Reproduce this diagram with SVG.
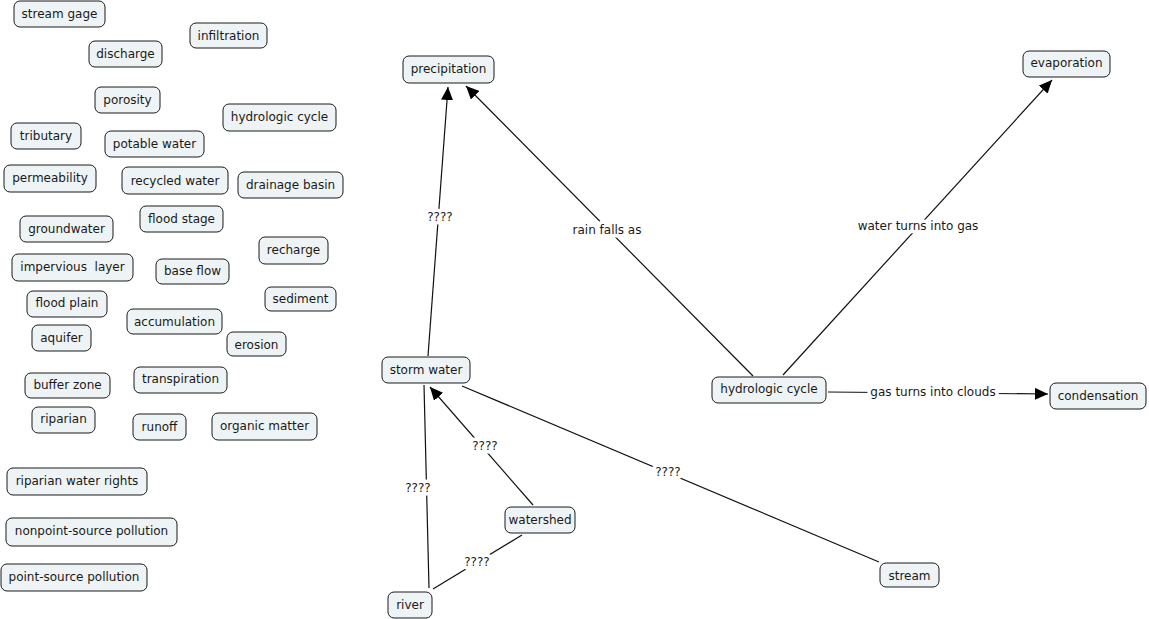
<svg xmlns="http://www.w3.org/2000/svg" width="1149" height="619" viewBox="0 0 1149 619">
<style>
.n rect{fill:#eef3f5;stroke:#1a1a1a;stroke-width:1}
.n text{font-family:"DejaVu Sans",Verdana,sans-serif;font-size:12px;fill:#1a1a1a;text-anchor:middle}
.c line{stroke:#111;stroke-width:1.2}
.c text{font-family:"DejaVu Sans",Verdana,sans-serif;font-size:12px;fill:#1a1a1a;text-anchor:middle;stroke:#fff;stroke-width:7;paint-order:stroke;stroke-linejoin:round}
</style>
<defs>
<marker id="a" markerUnits="userSpaceOnUse" markerWidth="14" markerHeight="12" viewBox="0 0 14 12" refX="13" refY="6" orient="auto">
<path d="M0,0 L13,6 L0,12 Z" fill="#000"/>
</marker>
</defs>
<rect width="1149" height="619" fill="#fff"/>
<g class="c" id="connectors">
<line x1="428" y1="356" x2="448" y2="87" marker-end="url(#a)"/>
<line x1="753" y1="376" x2="466" y2="86" marker-end="url(#a)"/>
<line x1="783" y1="375" x2="1052" y2="80" marker-end="url(#a)"/>
<line x1="828" y1="392" x2="1048" y2="394" marker-end="url(#a)"/>
<line x1="533" y1="505" x2="430" y2="387" marker-end="url(#a)"/>
<line x1="429" y1="588" x2="424" y2="385"/>
<line x1="462" y1="386" x2="879" y2="562"/>
<line x1="433" y1="589" x2="522" y2="535"/>
<text x="440" y="221">????</text>
<text x="607" y="234">rain falls as</text>
<text x="918" y="230">water turns into gas</text>
<text x="933" y="396">gas turns into clouds</text>
<text x="485" y="450">????</text>
<text x="418" y="492">????</text>
<text x="668" y="476">????</text>
<text x="477" y="566">????</text>
</g>
<g class="n" id="n-stream-gage"><rect x="14" y="1" width="91" height="26" rx="6"/><text x="59.5" y="18">stream gage</text></g>
<g class="n" id="n-infiltration"><rect x="190" y="23" width="77" height="25" rx="6"/><text x="228.5" y="40">infiltration</text></g>
<g class="n" id="n-discharge"><rect x="89" y="41" width="73" height="26" rx="6"/><text x="125.5" y="58">discharge</text></g>
<g class="n" id="n-porosity"><rect x="95" y="87" width="65" height="26" rx="6"/><text x="127.5" y="104">porosity</text></g>
<g class="n" id="n-hydrologic-cycle-left"><rect x="223" y="104" width="113" height="27" rx="6"/><text x="279.5" y="121">hydrologic cycle</text></g>
<g class="n" id="n-tributary"><rect x="11" y="123" width="70" height="26" rx="6"/><text x="46" y="140">tributary</text></g>
<g class="n" id="n-potable-water"><rect x="105" y="131" width="99" height="26" rx="6"/><text x="154.5" y="148">potable water</text></g>
<g class="n" id="n-permeability"><rect x="4" y="165" width="92" height="27" rx="6"/><text x="50" y="182">permeability</text></g>
<g class="n" id="n-recycled-water"><rect x="122" y="167" width="106" height="27" rx="6"/><text x="175" y="185">recycled water</text></g>
<g class="n" id="n-drainage-basin"><rect x="238" y="172" width="105" height="26" rx="6"/><text x="290.5" y="189">drainage basin</text></g>
<g class="n" id="n-flood-stage"><rect x="140" y="206" width="83" height="26" rx="6"/><text x="181.5" y="223">flood stage</text></g>
<g class="n" id="n-groundwater"><rect x="20" y="216" width="93" height="26" rx="6"/><text x="66.5" y="233">groundwater</text></g>
<g class="n" id="n-recharge"><rect x="259" y="237" width="69" height="27" rx="6"/><text x="293.5" y="254">recharge</text></g>
<g class="n" id="n-impervious-layer"><rect x="12" y="254" width="121" height="27" rx="6"/><text x="72.5" y="271" xml:space="preserve">impervious  layer</text></g>
<g class="n" id="n-base-flow"><rect x="156" y="259" width="73" height="25" rx="6"/><text x="192.5" y="275">base flow</text></g>
<g class="n" id="n-sediment"><rect x="265" y="287" width="71" height="24" rx="6"/><text x="300.5" y="303">sediment</text></g>
<g class="n" id="n-flood-plain"><rect x="27" y="291" width="80" height="26" rx="6"/><text x="67" y="307">flood plain</text></g>
<g class="n" id="n-accumulation"><rect x="127" y="309" width="95" height="25" rx="6"/><text x="174.5" y="326">accumulation</text></g>
<g class="n" id="n-aquifer"><rect x="32" y="325" width="59" height="26" rx="6"/><text x="61.5" y="342">aquifer</text></g>
<g class="n" id="n-erosion"><rect x="227" y="332" width="59" height="24" rx="6"/><text x="256.5" y="349">erosion</text></g>
<g class="n" id="n-transpiration"><rect x="134" y="367" width="93" height="26" rx="6"/><text x="180.5" y="383">transpiration</text></g>
<g class="n" id="n-buffer-zone"><rect x="25" y="373" width="85" height="25" rx="6"/><text x="67.5" y="389">buffer zone</text></g>
<g class="n" id="n-riparian"><rect x="32" y="407" width="63" height="26" rx="6"/><text x="63.5" y="423">riparian</text></g>
<g class="n" id="n-runoff"><rect x="133" y="414" width="53" height="26" rx="6"/><text x="159.5" y="431">runoff</text></g>
<g class="n" id="n-organic-matter"><rect x="212" y="413" width="105" height="27" rx="6"/><text x="264.5" y="430">organic matter</text></g>
<g class="n" id="n-riparian-water-rights"><rect x="7" y="468" width="140" height="27" rx="6"/><text x="77" y="485">riparian water rights</text></g>
<g class="n" id="n-nonpoint-source-pollution"><rect x="6" y="518" width="171" height="28" rx="6"/><text x="91.5" y="535">nonpoint-source pollution</text></g>
<g class="n" id="n-point-source-pollution"><rect x="1" y="564" width="146" height="27" rx="6"/><text x="74" y="581">point-source pollution</text></g>
<g class="n" id="n-precipitation"><rect x="403" y="56" width="91" height="27" rx="6"/><text x="448.5" y="73">precipitation</text></g>
<g class="n" id="n-evaporation"><rect x="1023" y="51" width="87" height="26" rx="6"/><text x="1066.5" y="67">evaporation</text></g>
<g class="n" id="n-storm-water"><rect x="382" y="357" width="88" height="26" rx="6"/><text x="426" y="374">storm water</text></g>
<g class="n" id="n-hydrologic-cycle"><rect x="712" y="377" width="114" height="26" rx="6"/><text x="769" y="393">hydrologic cycle</text></g>
<g class="n" id="n-condensation"><rect x="1050" y="383" width="96" height="26" rx="6"/><text x="1098" y="400">condensation</text></g>
<g class="n" id="n-watershed"><rect x="505" y="507" width="70" height="26" rx="6"/><text x="540" y="524">watershed</text></g>
<g class="n" id="n-river"><rect x="388" y="592" width="44" height="26" rx="6"/><text x="410" y="609">river</text></g>
<g class="n" id="n-stream"><rect x="880" y="563" width="59" height="24" rx="6"/><text x="909.5" y="580">stream</text></g>
</svg>
